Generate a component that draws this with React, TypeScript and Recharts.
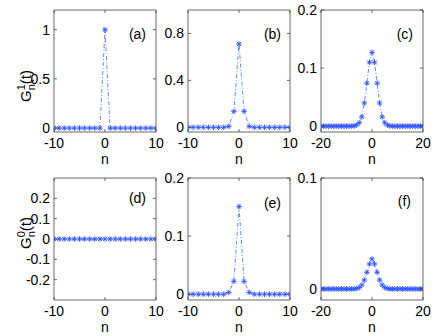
import React from 'react';
import { LineChart, Line, XAxis, YAxis, ReferenceArea } from 'recharts';

// lattice sites
const N_SHORT = [-10, -9, -8, -7, -6, -5, -4, -3, -2, -1, 0, 1, 2, 3, 4, 5, 6, 7, 8, 9, 10];
const N_LONG = [
  -20, -19, -18, -17, -16, -15, -14, -13, -12, -11, -10, -9, -8, -7, -6, -5, -4, -3, -2, -1, 0,
  1, 2, 3, 4, 5, 6, 7, 8, 9, 10, 11, 12, 13, 14, 15, 16, 17, 18, 19, 20,
];

// G^1_n(t)
const G1_A = [0, 0, 0, 0, 0, 0, 0, 0, 0, 0, 1, 0, 0, 0, 0, 0, 0, 0, 0, 0, 0];
const G1_B = [0, 0, 0, 0, 0, 0, 0, 0, 0.008, 0.136, 0.71, 0.136, 0.008, 0, 0, 0, 0, 0, 0, 0, 0];
const G1_C = [
  0, 0, 0, 0, 0, 0, 0, 0, 0, 0, 0, 0, 0, 0.0005, 0.002, 0.006, 0.016, 0.04, 0.074, 0.11, 0.127,
  0.11, 0.074, 0.04, 0.016, 0.006, 0.002, 0.0005, 0, 0, 0, 0, 0, 0, 0, 0, 0, 0, 0, 0, 0,
];

// G^0_n(t)
const G0_D = [0, 0, 0, 0, 0, 0, 0, 0, 0, 0, 0, 0, 0, 0, 0, 0, 0, 0, 0, 0, 0];
const G0_E = [0, 0, 0, 0, 0, 0, 0, 0, 0.003, 0.022, 0.151, 0.022, 0.003, 0, 0, 0, 0, 0, 0, 0, 0];
const G0_F = [
  0, 0, 0, 0, 0, 0, 0, 0, 0, 0, 0, 0, 0, 0, 0.0004, 0.0012, 0.0035, 0.008, 0.015, 0.0225, 0.027,
  0.0225, 0.015, 0.008, 0.0035, 0.0012, 0.0004, 0, 0, 0, 0, 0, 0, 0, 0, 0, 0, 0, 0, 0, 0,
];

const X_TICKS_SHORT = [-10, 0, 10];
const X_TICKS_LONG = [-20, 0, 20];

const FONT = '"Liberation Sans", Arial, Helvetica, sans-serif';
const FS = 14;
const BLUE = '#2f55ff';
const BOX = '#444';

const W = 102; // plot width
const H = 122; // plot height
const YW = 48; // y axis area
const MT = 10;
const MR = 8;
const XH = 34;
const TMX = 6;
const TMY = 4;

const panels = [
  { tag: '(a)', n: N_SHORT, g: G1_A, xTicks: X_TICKS_SHORT, yDomain: [-0.04, 1.2], yTicks: [0, 0.5, 1], left: 54, top: 10, tagDx: 10, tagDy: 29, yLabel: '1', yLabelY: 76 },
  { tag: '(b)', n: N_SHORT, g: G1_B, xTicks: X_TICKS_SHORT, yDomain: [-0.04, 1], yTicks: [0, 0.4, 0.8], left: 188, top: 10, tagDx: 9, tagDy: 29 },
  { tag: '(c)', n: N_LONG, g: G1_C, xTicks: X_TICKS_LONG, yDomain: [-0.01, 0.2], yTicks: [0, 0.1, 0.2], left: 321, top: 10, tagDx: 10, tagDy: 29 },
  { tag: '(d)', n: N_SHORT, g: G0_D, xTicks: X_TICKS_SHORT, yDomain: [-0.3, 0.3], yTicks: [-0.2, -0.1, 0, 0.1, 0.2], left: 54, top: 178, tagDx: 10, tagDy: 25, yLabel: '0', yLabelY: 55 },
  { tag: '(e)', n: N_SHORT, g: G0_E, xTicks: X_TICKS_SHORT, yDomain: [-0.01, 0.2], yTicks: [0, 0.1, 0.2], left: 188, top: 178, tagDx: 9, tagDy: 30 },
  { tag: '(f)', n: N_LONG, g: G0_F, xTicks: X_TICKS_LONG, yDomain: [-0.01, 0.1], yTicks: [0, 0.1], left: 321, top: 178, tagDx: 12, tagDy: 28 },
];

const Star = (props: any) => {
  const { cx, cy } = props;
  if (cx == null || cy == null) return null;
  const r = 2.8;
  const d = r * 0.72;
  return (
    <g stroke={BLUE} strokeWidth={0.9}>
      <line x1={cx - r} y1={cy} x2={cx + r} y2={cy} />
      <line x1={cx} y1={cy - r} x2={cx} y2={cy + r} />
      <line x1={cx - d} y1={cy - d} x2={cx + d} y2={cy + d} />
      <line x1={cx - d} y1={cy + d} x2={cx + d} y2={cy - d} />
    </g>
  );
};

const fmt = (v: number) => String(Math.round(v * 1000) / 1000);

const makeYTick = () => (props: any) => {
  const { x, y, payload } = props;
  const ax = x + TMY;
  return (
    <g>
      <line x1={ax} x2={ax + 3} y1={y} y2={y} stroke={BOX} strokeWidth={0.8} />
      <line x1={ax + W} x2={ax + W - 3} y1={y} y2={y} stroke={BOX} strokeWidth={0.8} />
      <text x={x} y={y} dy="0.35em" textAnchor="end" fontSize={FS} fontFamily={FONT} fill="#000">
        {fmt(payload.value)}
      </text>
    </g>
  );
};

const makeXTick = () => (props: any) => {
  const { x, y, payload } = props;
  const ay = y - TMX;
  return (
    <g>
      <line x1={x} x2={x} y1={ay} y2={ay - 3} stroke={BOX} strokeWidth={0.8} />
      <line x1={x} x2={x} y1={ay - H} y2={ay - H + 3} stroke={BOX} strokeWidth={0.8} />
      <text x={x} y={y} dy="0.71em" textAnchor="middle" fontSize={FS} fontFamily={FONT} fill="#000">
        {fmt(payload.value)}
      </text>
    </g>
  );
};

const PanelTag = (props: any) => {
  const { viewBox, text, dx, dy } = props;
  if (!viewBox) return null;
  return (
    <text x={viewBox.x + viewBox.width - dx} y={viewBox.y + dy} textAnchor="end" fontSize={FS} fontFamily={FONT} fill="#000">
      {text}
    </text>
  );
};

const GLabel = (props: any) => {
  const { sup, cy } = props;
  const bx = 25;
  return (
    <text x={bx} y={cy} transform={`rotate(-90, ${bx}, ${cy})`} textAnchor="middle" fontSize={15} fontFamily={FONT} fill="#000">
      G
      <tspan fontSize={11} dy={-6}>{sup}</tspan>
      <tspan fontSize={11} dx={-6.1} dy={10}>n</tspan>
      <tspan dy={-4}>(t)</tspan>
    </text>
  );
};

function Panel({ p }: { p: any }) {
  const data = p.n.map((n: number, i: number) => ({ n, g: p.g[i] }));
  const xd = [p.xTicks[0], p.xTicks[p.xTicks.length - 1]];
  return (
    <div style={{ position: 'absolute', left: p.left - YW, top: p.top - MT }}>
      <LineChart width={YW + W + MR} height={MT + H + XH} data={data} margin={{ top: MT, right: MR, left: 0, bottom: 0 }}>
        <XAxis
          dataKey="n"
          type="number"
          domain={xd}
          ticks={p.xTicks}
          allowDataOverflow
          height={XH}
          axisLine={false}
          tickLine={false}
          tickSize={0}
          tickMargin={TMX}
          tick={makeXTick()}
          interval={0}
          label={{ value: 'n', position: 'insideBottom', offset: 2, fontSize: FS, fontFamily: FONT, fill: '#000' }}
        />
        <YAxis
          type="number"
          domain={p.yDomain}
          ticks={p.yTicks}
          allowDataOverflow
          width={YW}
          axisLine={false}
          tickLine={false}
          tickSize={0}
          tickMargin={TMY}
          tick={makeYTick()}
          interval={0}
          label={p.yLabel ? <GLabel sup={p.yLabel} cy={MT + p.yLabelY} /> : undefined}
        />
        <ReferenceArea
          x1={xd[0]}
          x2={xd[1]}
          y1={p.yDomain[0]}
          y2={p.yDomain[1]}
          fill="none"
          fillOpacity={0}
          stroke={BOX}
          strokeWidth={0.8}
          label={<PanelTag text={p.tag} dx={p.tagDx} dy={p.tagDy} />}
        />
        <Line
          type="linear"
          dataKey="g"
          stroke={BLUE}
          strokeWidth={0.7}
          strokeDasharray="4 2 1 2"
          dot={(props: any) => <Star key={props.index} {...props} />}
          activeDot={false}
          isAnimationActive={false}
        />
      </LineChart>
    </div>
  );
}

export default function App() {
  return (
    <div style={{ position: 'absolute', left: 0, top: 0, width: 436, height: 336, background: '#fff' }}>
      {panels.map((p) => (
        <Panel key={p.tag} p={p} />
      ))}
    </div>
  );
}
